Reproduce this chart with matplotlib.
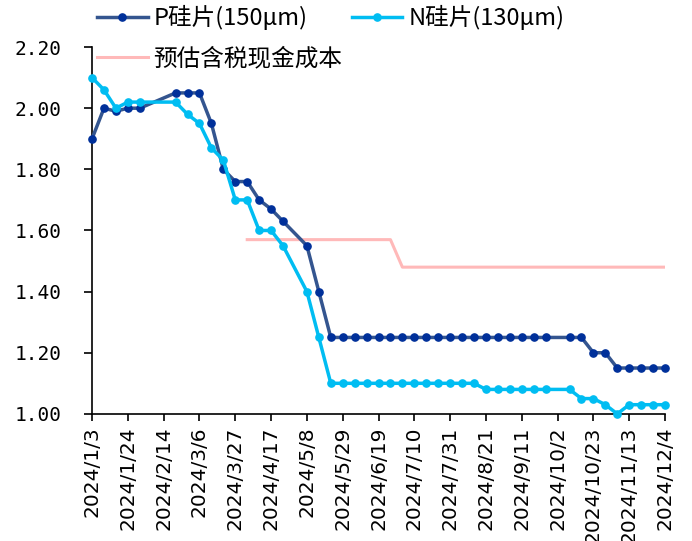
import numpy as np
import pandas as pd
import matplotlib
matplotlib.use("Agg")
import matplotlib.pyplot as plt
import matplotlib.dates as mdates
from matplotlib.ticker import FuncFormatter, MultipleLocator

plt.rcParams['font.family'] = ['Noto Sans CJK SC', 'DejaVu Sans']

# weekly price dates (holiday weeks have no quote)
dates = [
    '2024-01-03', '2024-01-10', '2024-01-17', '2024-01-24', '2024-01-31',
    '2024-02-21', '2024-02-28', '2024-03-06', '2024-03-13', '2024-03-20',
    '2024-03-27', '2024-04-03', '2024-04-10', '2024-04-17', '2024-04-24',
    '2024-05-08', '2024-05-15', '2024-05-22', '2024-05-29', '2024-06-05',
    '2024-06-12', '2024-06-19', '2024-06-26', '2024-07-03', '2024-07-10',
    '2024-07-17', '2024-07-24', '2024-07-31', '2024-08-07', '2024-08-14',
    '2024-08-21', '2024-08-28', '2024-09-04', '2024-09-11', '2024-09-18',
    '2024-09-25', '2024-10-09', '2024-10-16', '2024-10-23', '2024-10-30',
    '2024-11-06', '2024-11-13', '2024-11-20', '2024-11-27', '2024-12-04',
]

p_wafer = [
    1.90, 2.00, 1.99, 2.00, 2.00,
    2.05, 2.05, 2.05, 1.95, 1.80,
    1.76, 1.76, 1.70, 1.67, 1.63,
    1.55, 1.40, 1.25, 1.25, 1.25,
    1.25, 1.25, 1.25, 1.25, 1.25,
    1.25, 1.25, 1.25, 1.25, 1.25,
    1.25, 1.25, 1.25, 1.25, 1.25,
    1.25, 1.25, 1.25, 1.20, 1.20,
    1.15, 1.15, 1.15, 1.15, 1.15,
]

n_wafer = [
    2.10, 2.06, 2.00, 2.02, 2.02,
    2.02, 1.98, 1.95, 1.87, 1.83,
    1.70, 1.70, 1.60, 1.60, 1.55,
    1.40, 1.25, 1.10, 1.10, 1.10,
    1.10, 1.10, 1.10, 1.10, 1.10,
    1.10, 1.10, 1.10, 1.10, 1.10,
    1.08, 1.08, 1.08, 1.08, 1.08,
    1.08, 1.08, 1.05, 1.05, 1.03,
    1.00, 1.03, 1.03, 1.03, 1.03,
]

nan = np.nan
cash_cost = [
    nan, nan, nan, nan, nan,
    nan, nan, nan, nan, nan,
    nan, 1.57, 1.57, 1.57, 1.57,
    1.57, 1.57, 1.57, 1.57, 1.57,
    1.57, 1.57, 1.57, 1.48, 1.48,
    1.48, 1.48, 1.48, 1.48, 1.48,
    1.48, 1.48, 1.48, 1.48, 1.48,
    1.48, 1.48, 1.48, 1.48, 1.48,
    1.48, 1.48, 1.48, 1.48, 1.48,
]

labels = ['P硅片(150μm)', 'N硅片(130μm)', '预估含税现金成本']

x = pd.to_datetime(dates)

fig = plt.figure(figsize=(6.92, 5.41), dpi=100)
ax = fig.add_axes([0.133, 0.235, 0.828, 0.678])

lp, = ax.plot(x, p_wafer, color='#34558F', lw=2.5, marker='o', ms=5.2,
              mfc='#00309A', mec='#00309A', clip_on=False, zorder=3)
ln, = ax.plot(x, n_wafer, color='#00BDF2', lw=2.5, marker='o', ms=5.2,
              mfc='#00BDF2', mec='#00BDF2', clip_on=False, zorder=4)
lc, = ax.plot(x, cash_cost, color='#FFB9B9', lw=2.2, zorder=2)

ax.set_xlim(pd.Timestamp('2024-01-03'), pd.Timestamp('2024-12-04'))
ax.set_ylim(1.0, 2.2)
ax.yaxis.set_major_locator(MultipleLocator(0.2))
ax.yaxis.set_major_formatter(FuncFormatter(lambda v, pos: f"{v:.2f}"))

ticks = pd.date_range('2024-01-03', '2024-12-04', freq='21D')
ax.set_xticks(ticks)
ax.xaxis.set_major_formatter(FuncFormatter(
    lambda v, pos: (lambda d: f"{d.year}/{d.month}/{d.day}")(mdates.num2date(v))))

for s in ['top', 'right']:
    ax.spines[s].set_visible(False)
for s in ['left', 'bottom']:
    ax.spines[s].set_linewidth(1.2)
    ax.spines[s].set_color('black')

ax.tick_params(axis='x', direction='out', length=5, width=1.2, pad=4,
               labelrotation=90, labelsize=14.5)
ax.tick_params(axis='y', direction='out', length=6, width=1.2, pad=16,
               labelsize=14)
for t in ax.get_xticklabels():
    t.set_family('DejaVu Sans')
for t in ax.get_yticklabels():
    t.set_family('DejaVu Sans Mono')

fig.legend([lp, lc, ln], [labels[0], labels[2], labels[1]], ncol=2,
           loc='upper left', bbox_to_anchor=(0.140, 0.990), frameon=False,
           fontsize=17, handlelength=2.15, handletextpad=0.25,
           columnspacing=0.38, labelspacing=0.72, borderpad=0,
           borderaxespad=0)

fig.savefig('out.png', dpi=100)
